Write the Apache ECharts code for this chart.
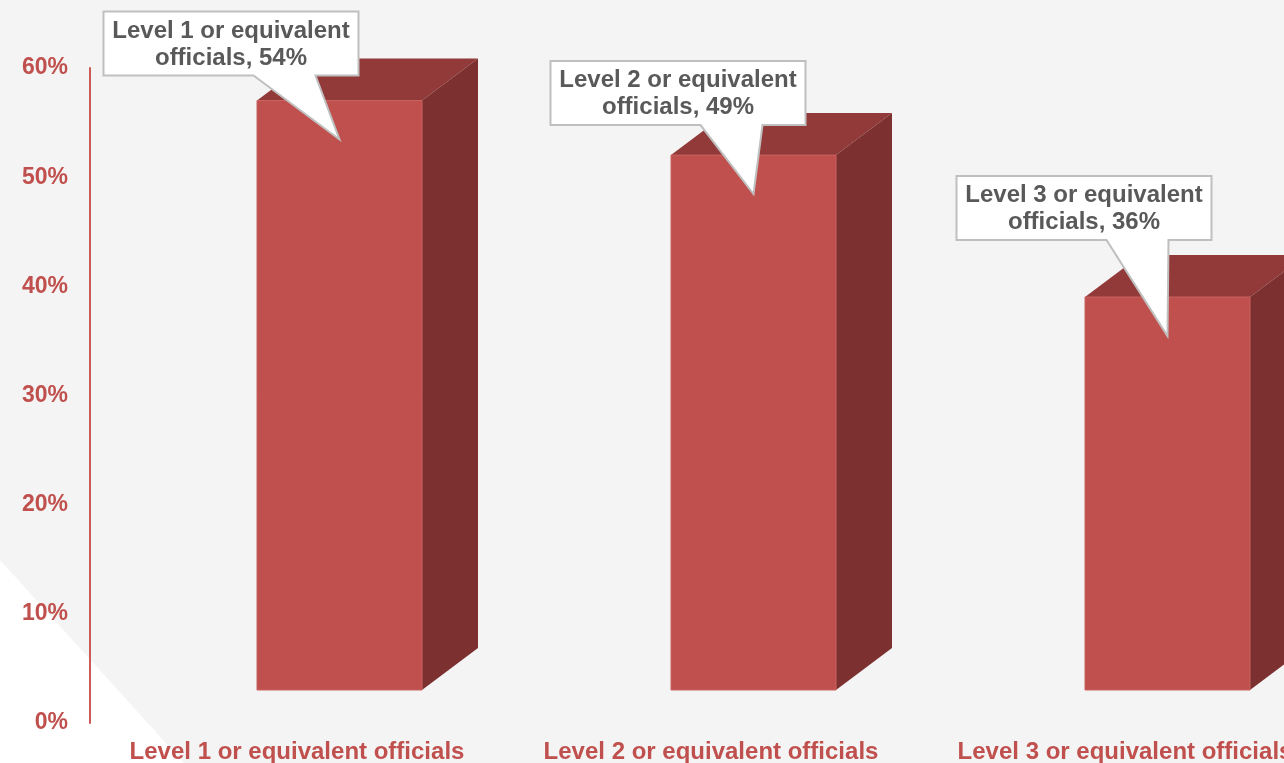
<!DOCTYPE html>
<html>
<head>
<meta charset="utf-8">
<script src="https://cdn.jsdelivr.net/npm/echarts@6/dist/echarts.min.js"></script>
<style>
html,body{margin:0;padding:0;background:#F4F4F4;}
#chart{width:1284px;height:763px;}
</style>
</head>
<body>
<div id="chart"></div>
<script>
// ---- data ----
const categories = ['Level 1 or equivalent officials', 'Level 2 or equivalent officials', 'Level 3 or equivalent officials'];
const values = [54, 49, 36];
const yTicks = [0, 10, 20, 30, 40, 50, 60];

// ---- style / layout constants ----
const RED = '#C0504D', TOP = '#923A39', SIDE = '#7C3030', TXT = '#595959';
const FRONT_L = -40, FRONT_R = 125;   // front face relative to category centre
const LIFT = 33;                      // floor offset of the front face
const DX = 56, DY = -42;              // depth
const TIP_DOWN = 39;
const CALLOUT_W = 255, CALLOUT_H = 64;
const calloutLeft = [-236, -203, -211];
const calloutTop = [-128, -133, -160];

const chart = echarts.init(document.getElementById('chart'));

function renderItem(params, api) {
  const i = api.value(0), v = api.value(1);
  const base = api.coord([i, 0]);
  const topP = api.coord([i, v]);
  const c = base[0];
  const fl = c + FRONT_L, fr = c + FRONT_R;
  const fb = base[1] - LIFT, ft = topP[1] - LIFT;
  const children = [
    {type: 'polygon', shape: {points: [[fl, ft], [fr, ft], [fr + DX, ft + DY], [fl + DX, ft + DY]]}, style: {fill: TOP}},
    {type: 'polygon', shape: {points: [[fr, ft], [fr + DX, ft + DY], [fr + DX, fb + DY], [fr, fb]]}, style: {fill: SIDE}},
    {type: 'rect', shape: {x: fl, y: ft, width: fr - fl, height: fb - ft}, style: {fill: RED, stroke: '#C96360', lineWidth: 1}}
  ];
  const tipX = (fl + fr) / 2, tipY = ft + TIP_DOWN;
  const L = tipX + calloutLeft[i], T = tipY + calloutTop[i];
  const R = L + CALLOUT_W, B = T + CALLOUT_H;
  children.push({
    type: 'polygon',
    shape: {points: [[L, T], [R, T], [R, B], [L + 212, B], [tipX, tipY], [L + 150, B], [L, B]]},
    style: {fill: '#FFFFFF', stroke: '#BFBFBF', lineWidth: 2, lineJoin: 'miter'}
  });
  const name = categories[i].replace(' officials', '\nofficials');
  children.push({
    type: 'text',
    style: {
      text: name + ', ' + v + '%',
      x: (L + R) / 2, y: (T + B) / 2 + 1,
      align: 'center', verticalAlign: 'middle',
      font: 'bold 24px "Liberation Sans", Arial, sans-serif',
      lineHeight: 27, fill: TXT
    }
  });
  return {type: 'group', children: children};
}

chart.setOption({
  backgroundColor: '#F4F4F4',
  animation: false,
  graphic: [{
    type: 'polygon', z: -10, silent: true,
    shape: {points: [[0, 560], [184, 763], [0, 763]]},
    style: {fill: '#FFFFFF'}
  }],
  grid: {left: 90, top: 68, bottom: 40, width: 1242, containLabel: false, outerBoundsMode: 'none'},
  xAxis: {
    type: 'category', data: categories,
    axisLine: {show: false}, axisTick: {show: false},
    axisLabel: {color: RED, fontWeight: 'bold', fontSize: 24, fontFamily: '"Liberation Sans", Arial, sans-serif', margin: 17, interval: 0}
  },
  yAxis: {
    type: 'value', min: yTicks[0], max: yTicks[yTicks.length - 1], interval: yTicks[1] - yTicks[0],
    axisLine: {show: true, lineStyle: {color: '#CC5A57', width: 2}},
    axisTick: {show: false}, splitLine: {show: false},
    axisLabel: {color: RED, fontWeight: 'bold', fontSize: 23, fontFamily: '"Liberation Sans", Arial, sans-serif', margin: 22, formatter: '{value}%'}
  },
  series: [{
    type: 'custom', renderItem: renderItem, clip: false,
    encode: {x: 0, y: 1},
    data: values.map((v, i) => [i, v])
  }]
});
</script>
</body>
</html>
